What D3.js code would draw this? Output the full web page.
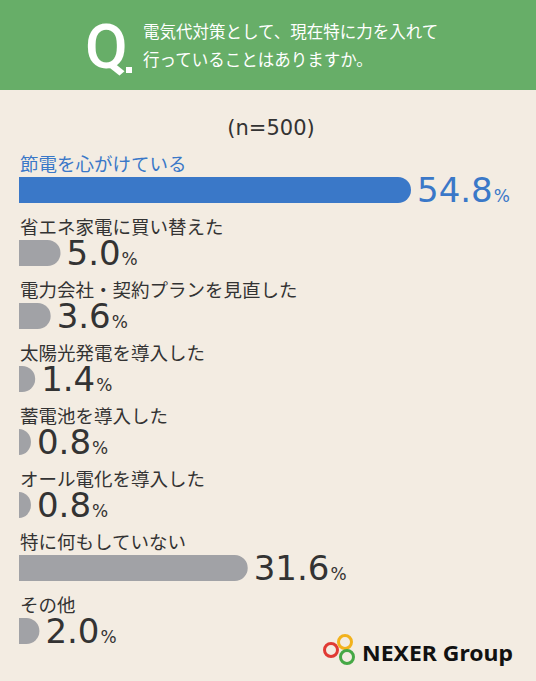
<!DOCTYPE html>
<html>
<head>
<meta charset="utf-8">
<script src="https://cdn.jsdelivr.net/npm/d3@7"></script>
<style>
  html, body { margin: 0; padding: 0; background: #f3ece2; }
  svg { display: block; }
</style>
</head>
<body>
<svg id="chart"></svg>
<script>
// data
const categories = ['節電を心がけている', '省エネ家電に買い替えた', '電力会社・契約プランを見直した',
  '太陽光発電を導入した', '蓄電池を導入した', 'オール電化を導入した', '特に何もしていない', 'その他'];
const values = [54.8, 5.0, 3.6, 1.4, 0.8, 0.8, 31.6, 2.0];
const questionLines = ['電気代対策として、現在特に力を入れて', '行っていることはありますか。'];
const sampleLabel = '(n=500)';

const width = 536;
const height = 681;
const barH = 26;
const blue = '#3a78c8';
const gray = '#a1a2a6';
const textCol = '#333333';
const numFont = '"DejaVu Sans", sans-serif';

const svg = d3.select('#chart')
  .attr('width', width)
  .attr('height', height);

svg.append('rect')
  .attr('width', width).attr('height', height)
  .attr('fill', '#f3ece2');

// header band
svg.append('rect')
  .attr('width', width).attr('height', 90)
  .attr('fill', '#67ae68');

svg.append('text')
  .attr('x', 85).attr('y', 68)
  .attr('font-family', 'Roboto, "Noto Sans", sans-serif')
  .attr('font-weight', 500)
  .attr('font-size', 62)
  .attr('fill', '#fff')
  .text('Q');

svg.append('rect')
  .attr('x', 126).attr('y', 67).attr('width', 6).attr('height', 6)
  .attr('fill', '#fff');

svg.selectAll('text.q')
  .data(questionLines)
  .join('text')
  .attr('class', 'q')
  .attr('x', 143)
  .attr('y', (d, i) => 38 + i * 28)
  .attr('font-family', '"Noto Sans CJK JP", sans-serif')
  .attr('font-size', 16.5)
  .attr('fill', '#fff')
  .text(d => d);

svg.append('text')
  .attr('x', 271).attr('y', 135)
  .attr('text-anchor', 'middle')
  .attr('font-family', numFont)
  .attr('font-size', 21)
  .attr('fill', textCol)
  .text(sampleLabel);

// scales
const x = d3.scaleLinear()
  .domain([-0.9, 54.8])
  .range([19, 411]);

const y = d3.scaleBand()
  .domain(categories)
  .range([177, 177 + 63 * categories.length])
  .paddingInner(0);

// bar with rounded right end only
function barPath(v, cat) {
  const x0 = 19;
  const x1 = x(v);
  const y0 = y(cat);
  const r = barH / 2;
  const w = x1 - x0;
  if (w <= r) {
    // narrow: half ellipse
    return `M${x0},${y0} A${w},${r} 0 0 1 ${x0},${y0 + barH} Z`;
  }
  return `M${x0},${y0} H${x1 - r} A${r},${r} 0 0 1 ${x1 - r},${y0 + barH} H${x0} Z`;
}

const rows = svg.selectAll('g.row')
  .data(categories)
  .join('g')
  .attr('class', 'row');

rows.append('text')
  .attr('x', 20)
  .attr('y', d => y(d) - 6)
  .attr('font-family', '"Noto Sans CJK JP", sans-serif')
  .attr('font-size', 18.5)
  .attr('fill', (d, i) => i === 0 ? blue : textCol)
  .text(d => d);

rows.append('path')
  .attr('d', (d, i) => barPath(values[i], d))
  .attr('fill', (d, i) => i === 0 ? blue : gray);

const valText = rows.append('text')
  .attr('x', (d, i) => x(values[i]) + 6)
  .attr('y', d => y(d) + 25)
  .attr('font-family', numFont)
  .attr('fill', (d, i) => i === 0 ? blue : textCol);

valText.append('tspan')
  .attr('font-size', 34)
  .text((d, i) => values[i].toFixed(1));

valText.append('tspan')
  .attr('font-size', 17)
  .attr('dx', 1)
  .text('%');

// logo
const logo = svg.append('g');
const rings = [
  { cx: 331, cy: 650, c: '#e03a34' },
  { cx: 345, cy: 642, c: '#f2b21c' },
  { cx: 347, cy: 657, c: '#45a845' }
];
logo.selectAll('circle')
  .data(rings)
  .join('circle')
  .attr('cx', d => d.cx).attr('cy', d => d.cy)
  .attr('r', 6.5)
  .attr('fill', 'none')
  .attr('stroke', d => d.c)
  .attr('stroke-width', 3);

logo.append('text')
  .attr('x', 362).attr('y', 661)
  .attr('font-family', '"Noto Sans", sans-serif')
  .attr('font-weight', 700)
  .attr('font-size', 22)
  .attr('textLength', 151)
  .attr('lengthAdjust', 'spacingAndGlyphs')
  .attr('fill', '#111')
  .text('NEXER Group');
</script>
</body>
</html>
